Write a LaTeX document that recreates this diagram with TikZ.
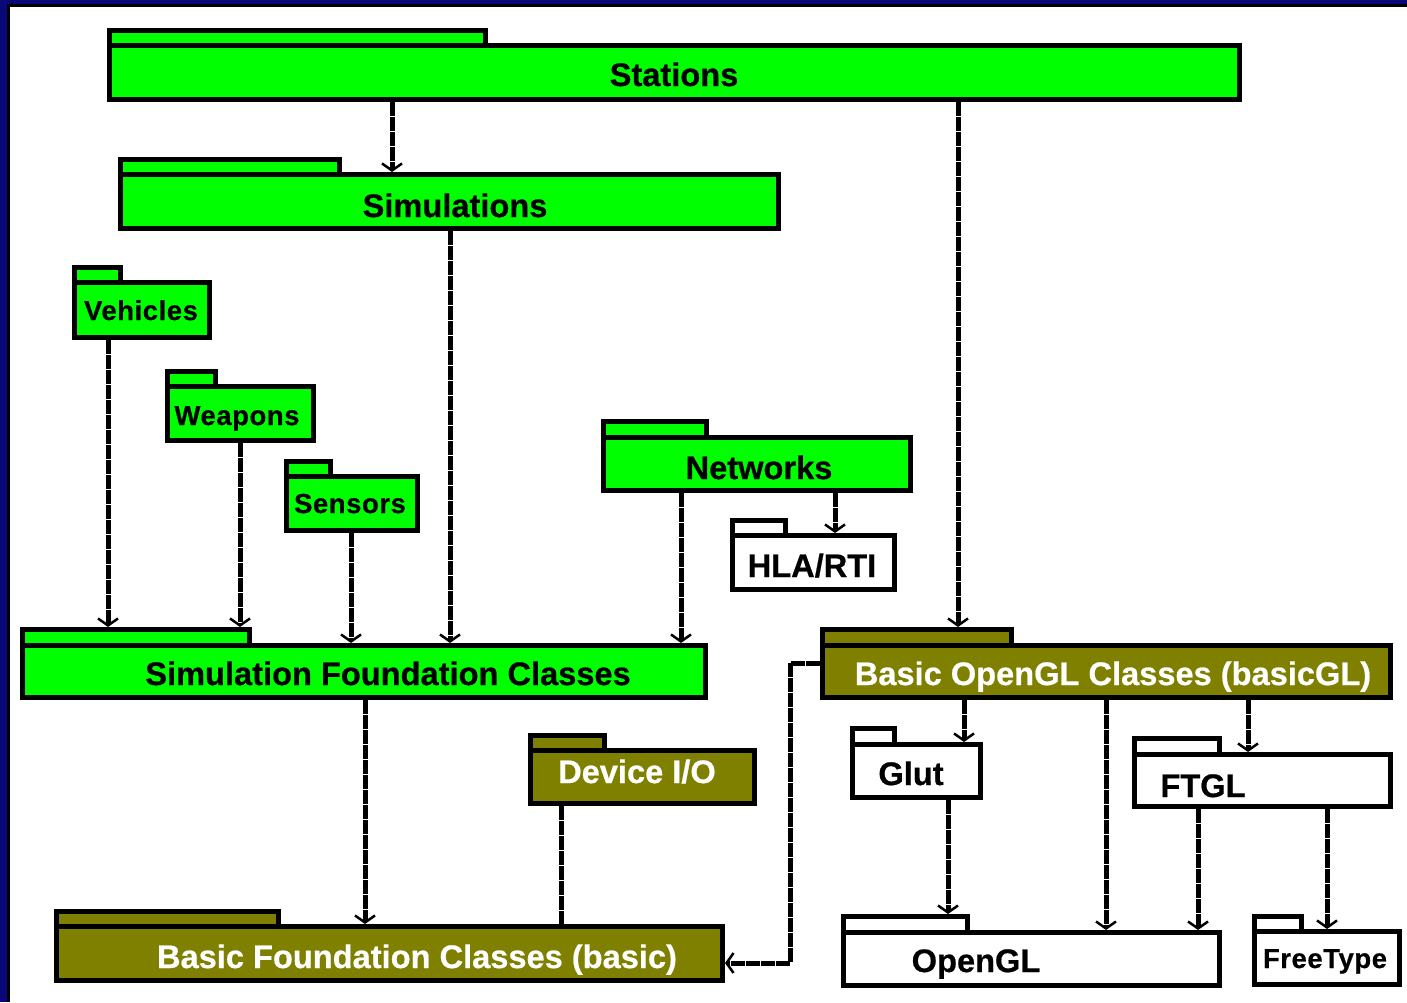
\documentclass[tikz,border=0pt]{standalone}
\usepackage{fontspec}
\setmainfont{Liberation Sans}
\usetikzlibrary{arrows.meta}
\definecolor{pkggreen}{RGB}{0,255,0}
\definecolor{pkgolive}{RGB}{128,128,0}
\definecolor{frameblue}{RGB}{8,8,120}
% #1 name, #2 style, #3 x1, #4 tab top, #5 tab right, #6 body top, #7 x2, #8 bottom (outer edges, px)
\newcommand\pkgbox[8]{%
  \node[#2, minimum width={#5-#3-5}, minimum height={#6-#4}] (#1-tab) at ({(#3+#5)/2},{(#4+#6)/2+2.5}) {};
  \node[#2, minimum width={#7-#3-5}, minimum height={#8-#6-5}] (#1) at ({(#3+#7)/2},{(#6+#8)/2}) {};
}
\begin{document}
\begin{tikzpicture}[x=1pt,y=-1pt,
  pkgline/.style={draw=black, line width=5pt, rectangle, inner sep=0pt, outer sep=2.5pt},
  gpkg/.style={pkgline, fill=pkggreen},
  opkg/.style={pkgline, fill=pkgolive},
  wpkg/.style={pkgline, fill=white},
  big/.style={font=\fontsize{32.6}{38}\selectfont\bfseries\addfontfeature{FakeBold=0.6}, anchor=base, inner sep=0pt},
  small/.style={font=\fontsize{27.5}{32}\selectfont\bfseries\addfontfeature{LetterSpace=2,FakeBold=0.5}, anchor=base, inner sep=0pt},
  link/.style={line width=5pt, draw=black, dash pattern=on 14pt off 1pt},
  conn/.style={link, -{Straight Barb[length=7pt,width=20pt,line width=2.5pt]}}
]
% frame
\useasboundingbox (0,0) rectangle (1407,1002);
\fill[frameblue] (0,0) rectangle (1407,1002);
\fill[black] (7,3.5) rectangle (1407,1002);
\fill[white] (9.5,6.5) rectangle (1407,1002);

% packages
\pkgbox{stations}{gpkg}{107}{28}{488}{43}{1242}{102}
\pkgbox{sims}{gpkg}{118}{157}{342}{172}{781}{231}
\pkgbox{veh}{gpkg}{72}{265}{123}{280}{212}{340}
\pkgbox{weap}{gpkg}{165}{369}{218}{384}{316}{443}
\pkgbox{sens}{gpkg}{284}{459}{333}{474}{420}{533}
\pkgbox{net}{gpkg}{601}{419}{709}{435}{913}{493}
\pkgbox{hla}{wpkg}{730}{518}{788}{533}{897}{592}
\pkgbox{sfc}{gpkg}{20}{627}{252}{643}{708}{700}
\pkgbox{bgl}{opkg}{820}{627}{1014}{643}{1393}{700}
\pkgbox{dio}{opkg}{528}{733}{607}{748}{757}{806}
\pkgbox{glut}{wpkg}{850}{726}{897}{742}{983}{800}
\pkgbox{ftgl}{wpkg}{1132}{736}{1222}{752}{1393}{809}
\pkgbox{bfc}{opkg}{54}{909}{281}{924}{725}{983}
\pkgbox{ogl}{wpkg}{841}{914}{970}{930}{1222}{988}
\pkgbox{ft}{wpkg}{1252}{914}{1304}{929}{1402}{987}

% labels
\node[big] (t-stations) at (674,86) {Stations};
\node[big] (t-sims) at (455,217) {Simulations};
\node[small] (t-veh) at (141,320) {Vehicles};
\node[small] (t-weap) at (237,425) {Weapons};
\node[small] (t-sens) at (350,513) {Sensors};
\node[big] (t-net) at (759,479) {Networks};
\node[big] (t-hla) at (812,577) {HLA/RTI};
\node[big] (t-sfc) at (388,685) {Simulation Foundation Classes};
\node[big, text=white] (t-bgl) at (1113,685) {Basic OpenGL Classes (basicGL)};
\node[big, text=white] (t-dio) at (637,783) {Device I/O};
\node[big] (t-glut) at (911,785) {Glut};
\node[big] (t-ftgl) at (1203,797) {FTGL};
\node[big, text=white] (t-bfc) at (417,968) {Basic Foundation Classes (basic)};
\node[big] (t-ogl) at (976,972) {OpenGL};
\node[small] (t-ft) at (1325,968) {FreeType};

% x guides for connectors
\coordinate (x108) at (108,0);
\coordinate (x240) at (240,0);
\coordinate (x351) at (351,0);
\coordinate (x365) at (365,0);
\coordinate (x392) at (392,0);
\coordinate (x450) at (450,0);
\coordinate (x561) at (561,0);
\coordinate (x681) at (681,0);
\coordinate (x835) at (835,0);
\coordinate (x948) at (948,0);
\coordinate (x958) at (958,0);
\coordinate (x964) at (964,0);
\coordinate (x1106) at (1106,0);
\coordinate (x1198) at (1198,0);
\coordinate (x1248) at (1248,0);
\coordinate (x1327) at (1327,0);
\coordinate (gly) at (0,663);
\coordinate (bend) at (790,963);

% connectors
\draw[conn] (stations.south -| x392) -- (sims.north -| x392);
\draw[conn] (stations.south -| x958) -- (bgl-tab.north -| x958);
\draw[conn] (sims.south -| x450) -- (sfc.north -| x450);
\draw[conn] (veh.south -| x108) -- (sfc-tab.north -| x108);
\draw[conn] (weap.south -| x240) -- (sfc-tab.north -| x240);
\draw[conn] (sens.south -| x351) -- (sfc.north -| x351);
\draw[conn] (net.south -| x681) -- (sfc.north -| x681);
\draw[conn] (net.south -| x835) -- (hla.north -| x835);
\draw[conn] (sfc.south -| x365) -- (bfc.north -| x365);
\draw[link] (dio.south -| x561) -- (bfc.north -| x561);
\draw[conn] (bgl.west |- gly) -- (bend |- gly) -- (bend) -- (bfc.east |- bend);
\draw[conn] (bgl.south -| x964) -- (glut.north -| x964);
\draw[conn] (bgl.south -| x1106) -- (ogl.north -| x1106);
\draw[conn] (bgl.south -| x1248) -- (ftgl.north -| x1248);
\draw[conn] (glut.south -| x948) -- (ogl-tab.north -| x948);
\draw[conn] (ftgl.south -| x1198) -- (ogl.north -| x1198);
\draw[conn] (ftgl.south -| x1327) -- (ft.north -| x1327);
\end{tikzpicture}
\end{document}
